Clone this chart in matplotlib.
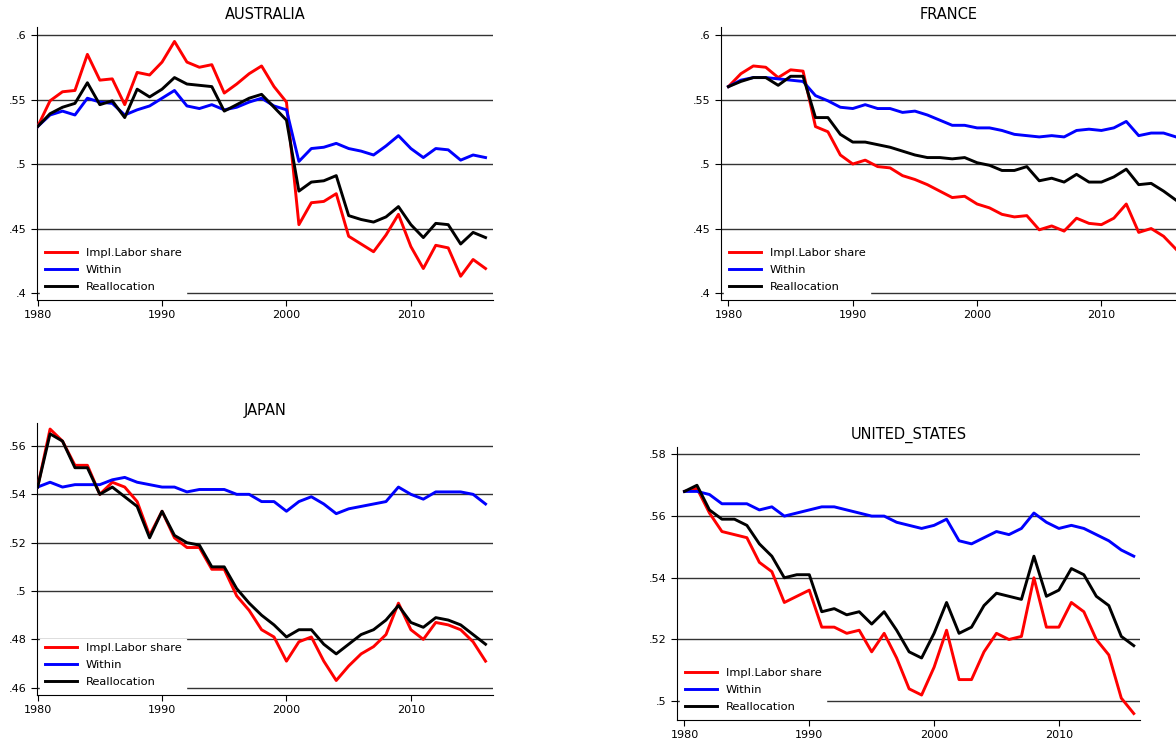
import matplotlib
matplotlib.use("Agg")
import matplotlib.pyplot as plt
import numpy as np

years = np.arange(1980, 2017)

au_labor = [.529, .549, .556, .557, .585, .565, .566, .546, .571, .569, .579, .595, .579, .575, .577, .555, .562, .570, .576, .560,
            .548, .453, .470, .471, .477, .444, .438, .432, .445, .461, .436, .419, .437, .435, .413, .426, .419]
au_within = [.529, .538, .541, .538, .551, .548, .547, .538, .542, .545, .551, .557, .545, .543, .546, .542, .544, .548, .551, .545,
             .542, .502, .512, .513, .516, .512, .510, .507, .514, .522, .512, .505, .512, .511, .503, .507, .505]
au_realloc = [.529, .539, .544, .547, .563, .546, .549, .536, .558, .552, .558, .567, .562, .561, .560, .541, .546, .551, .554, .544,
              .534, .479, .486, .487, .491, .460, .457, .455, .459, .467, .453, .443, .454, .453, .438, .447, .443]

fr_labor = [.560, .570, .576, .575, .567, .573, .572, .529, .525, .507, .500, .503, .498, .497, .491, .488, .484, .479, .474, .475,
            .469, .466, .461, .459, .460, .449, .452, .448, .458, .454, .453, .458, .469, .447, .450, .444, .434]
fr_within = [.560, .565, .567, .567, .566, .565, .564, .553, .549, .544, .543, .546, .543, .543, .540, .541, .538, .534, .530, .530,
             .528, .528, .526, .523, .522, .521, .522, .521, .526, .527, .526, .528, .533, .522, .524, .524, .521]
fr_realloc = [.560, .564, .567, .567, .561, .568, .568, .536, .536, .523, .517, .517, .515, .513, .510, .507, .505, .505, .504, .505,
              .501, .499, .495, .495, .498, .487, .489, .486, .492, .486, .486, .490, .496, .484, .485, .479, .472]

jp_labor = [.543, .567, .562, .552, .552, .540, .545, .543, .537, .523, .533, .522, .518, .518, .509, .509, .498, .492, .484, .481,
            .471, .479, .481, .471, .463, .469, .474, .477, .482, .495, .484, .480, .487, .486, .484, .479, .471]
jp_within = [.543, .545, .543, .544, .544, .544, .546, .547, .545, .544, .543, .543, .541, .542, .542, .542, .540, .540, .537, .537,
             .533, .537, .539, .536, .532, .534, .535, .536, .537, .543, .540, .538, .541, .541, .541, .540, .536]
jp_realloc = [.543, .565, .562, .551, .551, .540, .543, .539, .535, .522, .533, .523, .520, .519, .510, .510, .501, .495, .490, .486,
              .481, .484, .484, .478, .474, .478, .482, .484, .488, .494, .487, .485, .489, .488, .486, .482, .478]

us_labor = [.568, .569, .561, .555, .554, .553, .545, .542, .532, .534, .536, .524, .524, .522, .523, .516, .522, .514, .504, .502,
            .511, .523, .507, .507, .516, .522, .520, .521, .540, .524, .524, .532, .529, .520, .515, .501, .496]
us_within = [.568, .568, .567, .564, .564, .564, .562, .563, .560, .561, .562, .563, .563, .562, .561, .560, .560, .558, .557, .556,
             .557, .559, .552, .551, .553, .555, .554, .556, .561, .558, .556, .557, .556, .554, .552, .549, .547]
us_realloc = [.568, .570, .562, .559, .559, .557, .551, .547, .540, .541, .541, .529, .530, .528, .529, .525, .529, .523, .516, .514,
              .522, .532, .522, .524, .531, .535, .534, .533, .547, .534, .536, .543, .541, .534, .531, .521, .518]

W, H = 1176, 741
fig = plt.figure(figsize=(W / 100, H / 100), dpi=100)
fig.patch.set_facecolor("white")

def fmt(v):
    s = f"{v:g}"
    return s[1:] if s.startswith("0") else s

# (title, data, pixel box l,t,r,b, xlim, ylim, yticks)
panels = [
    ("AUSTRALIA", (au_labor, au_within, au_realloc), (37, 27, 493, 300), (1979.95, 2016.6), (.3946, .6062), [.4, .45, .5, .55, .6]),
    ("FRANCE", (fr_labor, fr_within, fr_realloc), (721, 27, 1176, 300), (1979.4, 2016.0), (.3946, .6062), [.4, .45, .5, .55, .6]),
    ("JAPAN", (jp_labor, jp_within, jp_realloc), (37, 423, 493, 695), (1979.95, 2016.6), (.457, .5695), [.46, .48, .5, .52, .54, .56]),
    ("UNITED_STATES", (us_labor, us_within, us_realloc), (677, 447, 1140, 720), (1979.4, 2016.5), (.4939, .5824), [.5, .52, .54, .56, .58]),
]

for title, (lab, wit, rea), (l, t, r, b), xl, yl, yt in panels:
    ax = fig.add_axes([l / W, 1 - b / H, (r - l) / W, (b - t) / H])
    for y in yt:
        ax.axhline(y, color="#333333", lw=1.0, zorder=1)
    ax.plot(years, lab, color="#ff0000", lw=2.1, label="Impl.Labor share", zorder=3)
    ax.plot(years, wit, color="#0000ff", lw=2.1, label="Within", zorder=3)
    ax.plot(years, rea, color="black", lw=2.1, label="Reallocation", zorder=3)
    ax.set_xlim(*xl)
    ax.set_ylim(*yl)
    ax.set_yticks(yt)
    ax.set_yticklabels([fmt(v) for v in yt])
    ax.set_xticks([1980, 1990, 2000, 2010])
    ax.tick_params(labelsize=8, length=4, width=0.8)
    for s in ("top", "right"):
        ax.spines[s].set_visible(False)
    ax.set_title(title, fontsize=10.5, pad=6)
    leg = ax.legend(loc="lower left", fontsize=8.2, frameon=True, fancybox=False,
                    framealpha=1, handlelength=2.8, borderaxespad=0.3, labelspacing=0.6)
    leg.get_frame().set_edgecolor("white")
    leg.get_frame().set_facecolor("white")
    leg.set_zorder(2)

fig.savefig("out.png", dpi=100)
